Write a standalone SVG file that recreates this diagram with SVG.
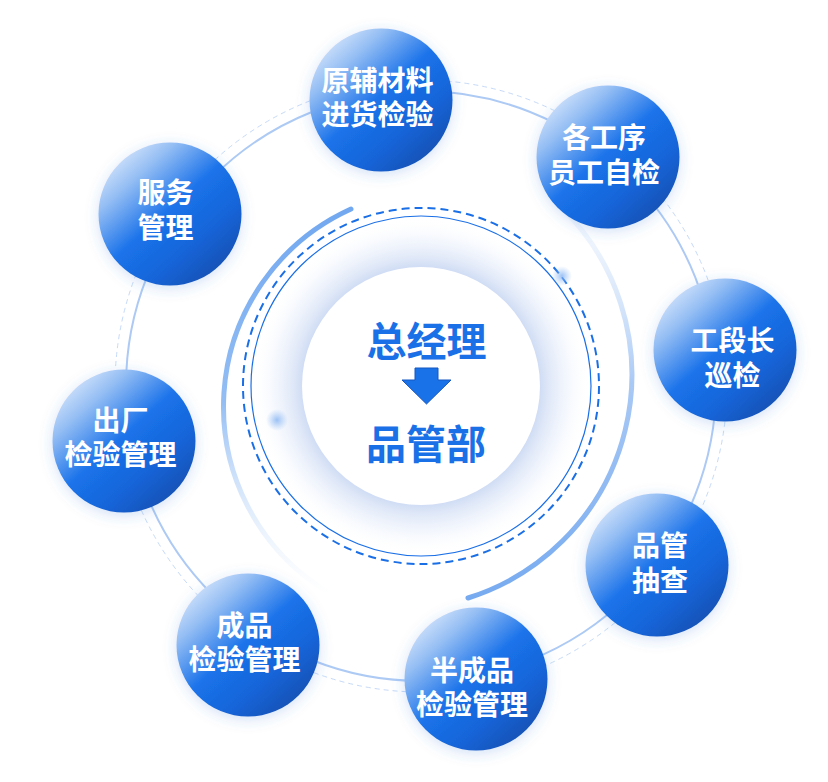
<svg xmlns="http://www.w3.org/2000/svg" width="828" height="782" viewBox="0 0 828 782">
  <defs>
    <style>
      .node-text { font-family: "Noto Sans CJK SC", "Noto Sans", sans-serif; font-size: 28px; font-weight: 700; fill: #ffffff; text-anchor: middle; }
      .center-text { font-family: "Noto Sans CJK SC", "Noto Sans", sans-serif; font-size: 40px; font-weight: 700; fill: #1a70e6; text-anchor: middle; }
      .node-circle { fill: url(#nodeGrad); filter: url(#nodeShadow); }
    </style>
    <linearGradient id="nodeGrad" x1="0.12" y1="0.1" x2="0.85" y2="0.92">
      <stop offset="0" stop-color="#d2e3fb"/>
      <stop offset="0.18" stop-color="#96bff4"/>
      <stop offset="0.48" stop-color="#1b73ea"/>
      <stop offset="0.75" stop-color="#1664d8"/>
      <stop offset="1" stop-color="#1250b2"/>
    </linearGradient>
    <filter id="nodeShadow" x="-30%" y="-30%" width="160%" height="160%">
      <feGaussianBlur in="SourceAlpha" stdDeviation="7"/>
      <feOffset dx="0" dy="3" result="b"/>
      <feFlood flood-color="#3a78d8" flood-opacity="0.22"/>
      <feComposite in2="b" operator="in"/>
      <feMerge>
        <feMergeNode/>
        <feMergeNode in="SourceGraphic"/>
      </feMerge>
    </filter>
    <radialGradient id="haze" gradientUnits="userSpaceOnUse" cx="421" cy="386" r="168">
      <stop offset="0.68" stop-color="#c7d6f2" stop-opacity="1"/>
      <stop offset="0.76" stop-color="#dbe5f7" stop-opacity="0.9"/>
      <stop offset="0.88" stop-color="#eef3fc" stop-opacity="0.6"/>
      <stop offset="1" stop-color="#ffffff" stop-opacity="0"/>
    </radialGradient>
    <radialGradient id="dot">
      <stop offset="0" stop-color="#84b3f2" stop-opacity="0.8"/>
      <stop offset="1" stop-color="#9cc2f6" stop-opacity="0"/>
    </radialGradient>
    <linearGradient id="leftArcGrad" gradientUnits="userSpaceOnUse" x1="0" y1="209" x2="0" y2="595">
      <stop offset="0" stop-color="#72a8f0" stop-opacity="1"/>
      <stop offset="0.5" stop-color="#8dbaf3" stop-opacity="0.95"/>
      <stop offset="1" stop-color="#d6e6fb" stop-opacity="0"/>
    </linearGradient>
    <linearGradient id="rightArcGrad" gradientUnits="userSpaceOnUse" x1="0" y1="205" x2="0" y2="600">
      <stop offset="0" stop-color="#e4eefc" stop-opacity="0.3"/>
      <stop offset="0.45" stop-color="#a9c9f5" stop-opacity="1"/>
      <stop offset="1" stop-color="#76aaf0" stop-opacity="1"/>
    </linearGradient>
  </defs>

  <rect width="828" height="782" fill="#ffffff"/>

  <!-- cycle rings (connectors) -->
  <g id="connectors" fill="none">
    <circle cx="421" cy="386" r="306" stroke="#c6daf8" stroke-width="1" stroke-dasharray="5 4"/>
    <circle cx="421" cy="386" r="295" stroke="#adcaf4" stroke-width="2"/>
  </g>

  <!-- central hub -->
  <g id="center">
    <circle cx="421" cy="386" r="168" fill="url(#haze)"/>
    <path d="M 351,209 A 217 217 0 0 0 326,591" fill="none" stroke="url(#leftArcGrad)" stroke-width="5" stroke-linecap="round"/>
    <path d="M 563,209 A 234 234 0 0 1 468,598" fill="none" stroke="url(#rightArcGrad)" stroke-width="5" stroke-linecap="round"/>
    <circle cx="421" cy="386" r="178" fill="none" stroke="#1a6fe6" stroke-width="2" stroke-dasharray="8 5"/>
    <circle cx="421" cy="386" r="170" fill="none" stroke="#1a6fe6" stroke-width="1.2"/>
    <circle cx="562" cy="276" r="10" fill="url(#dot)"/>
    <circle cx="277" cy="420" r="11" fill="url(#dot)"/>
    <circle cx="421" cy="386" r="119" fill="#ffffff"/>
    <text class="center-text" x="426.5" y="356">总经理</text>
    <path d="M 415,368 L 438,368 L 438,380 L 451,380 L 426.5,404 L 402,380 L 415,380 Z" fill="#1a72e8" stroke="#1456c0" stroke-width="1" stroke-linejoin="round"/>
    <text class="center-text" x="426" y="459">品管部</text>
  </g>

  <!-- nodes -->
  <g id="node-raw">
    <circle class="node-circle" cx="381" cy="100" r="71.5"/>
    <text class="node-text" x="377.5" y="91">原辅材料</text>
    <text class="node-text" x="377.5" y="125">进货检验</text>
  </g>
  <g id="node-process">
    <circle class="node-circle" cx="608" cy="157" r="71.5"/>
    <text class="node-text" x="604" y="148">各工序</text>
    <text class="node-text" x="604" y="183">员工自检</text>
  </g>
  <g id="node-section">
    <circle class="node-circle" cx="725" cy="350" r="71.5"/>
    <text class="node-text" x="732.5" y="351">工段长</text>
    <text class="node-text" x="732.5" y="386">巡检</text>
  </g>
  <g id="node-qc">
    <circle class="node-circle" cx="657" cy="565" r="71.5"/>
    <text class="node-text" x="660" y="556">品管</text>
    <text class="node-text" x="660" y="591">抽查</text>
  </g>
  <g id="node-semi">
    <circle class="node-circle" cx="476" cy="679" r="71.5"/>
    <text class="node-text" x="472" y="681">半成品</text>
    <text class="node-text" x="472" y="715">检验管理</text>
  </g>
  <g id="node-finished">
    <circle class="node-circle" cx="248" cy="645" r="71.5"/>
    <text class="node-text" x="244.5" y="636">成品</text>
    <text class="node-text" x="244.5" y="670">检验管理</text>
  </g>
  <g id="node-outgoing">
    <circle class="node-circle" cx="124" cy="441" r="71.5"/>
    <text class="node-text" x="120.5" y="431">出厂</text>
    <text class="node-text" x="120.5" y="465">检验管理</text>
  </g>
  <g id="node-service">
    <circle class="node-circle" cx="170" cy="214" r="71.5"/>
    <text class="node-text" x="165.5" y="203">服务</text>
    <text class="node-text" x="165.5" y="238">管理</text>
  </g>
</svg>
